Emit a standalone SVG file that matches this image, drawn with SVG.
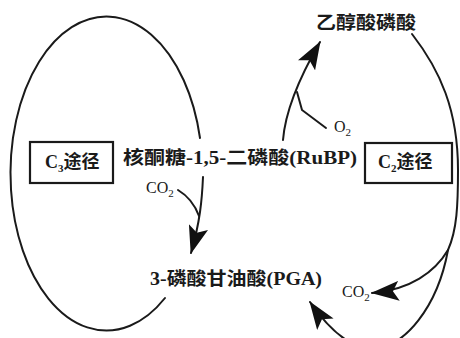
<svg xmlns="http://www.w3.org/2000/svg" width="460" height="338" viewBox="0 0 460 338">
<style>
.ln{fill:none;stroke:#1a1a1a;stroke-width:2;stroke-linecap:round}
.box{fill:none;stroke:#1a1a1a;stroke-width:2.2}
.t{font-family:"Liberation Serif","Noto Sans CJK SC",serif;font-size:18px;font-weight:bold;fill:#1a1a1a}
.s{font-family:"Liberation Serif","Noto Sans CJK SC",serif;font-size:16px;fill:#1a1a1a}
.sub{font-size:11px}
</style>
<defs>
<marker id="ah" viewBox="0 0 28 20" refX="27" refY="10" markerWidth="28" markerHeight="20" orient="auto" markerUnits="userSpaceOnUse">
<path d="M0,0 L28,10 L0,20 L6,10 Z" fill="#111"/>
</marker>
</defs>
<rect width="460" height="338" fill="#fff"/>
<g id="connectors">
<path class="ln" d="M200,138 A96,157 0 1 0 165,298"/>
<path class="ln" d="M412,34 C440,70 458,110 458,170 C458,205 457,230 448,250"/>
<path class="ln" d="M448,250 C435,272 410,290 372,293" marker-end="url(#ah)"/>
<path class="ln" d="M448,250 C438,305 405,350 370,348 C348,347 328,328 310,302" marker-end="url(#ah)"/>
<path class="ln" d="M203,177 C202,200 200,222 191,253" marker-end="url(#ah)"/>
<path class="ln" d="M178,190 C188,196 195,205 199,216"/>
<path class="ln" d="M283,140 C285,115 295,85 320,42" marker-end="url(#ah)"/>
<path class="ln" d="M326,128 L302,110 L297,92"/>
</g>
<g id="glycolate"><text class="t" x="316" y="29" textLength="100" lengthAdjust="spacingAndGlyphs">乙醇酸磷酸</text></g>
<g id="rubp"><text class="t" x="123" y="164" textLength="234" lengthAdjust="spacingAndGlyphs">核酮糖-1,5-二磷酸(RuBP)</text></g>
<g id="pga"><text class="t" x="150" y="285" textLength="172" lengthAdjust="spacingAndGlyphs">3-磷酸甘油酸(PGA)</text></g>
<g id="c3">
<rect class="box" x="30" y="142" width="83" height="41"/>
<text class="t" x="45" y="168">C<tspan class="sub" dy="4">3</tspan><tspan dy="-4">途径</tspan></text>
</g>
<g id="c2">
<rect class="box" x="365" y="143" width="87" height="40"/>
<text class="t" x="378" y="168">C<tspan class="sub" dy="4">2</tspan><tspan dy="-4">途径</tspan></text>
</g>
<g id="co2a"><text class="s" x="146" y="193">CO<tspan class="sub" dy="4">2</tspan></text></g>
<g id="co2b"><text class="s" x="342" y="297">CO<tspan class="sub" dy="4">2</tspan></text></g>
<g id="o2"><text class="s" x="334" y="132">O<tspan class="sub" dy="4">2</tspan></text></g>
</svg>
